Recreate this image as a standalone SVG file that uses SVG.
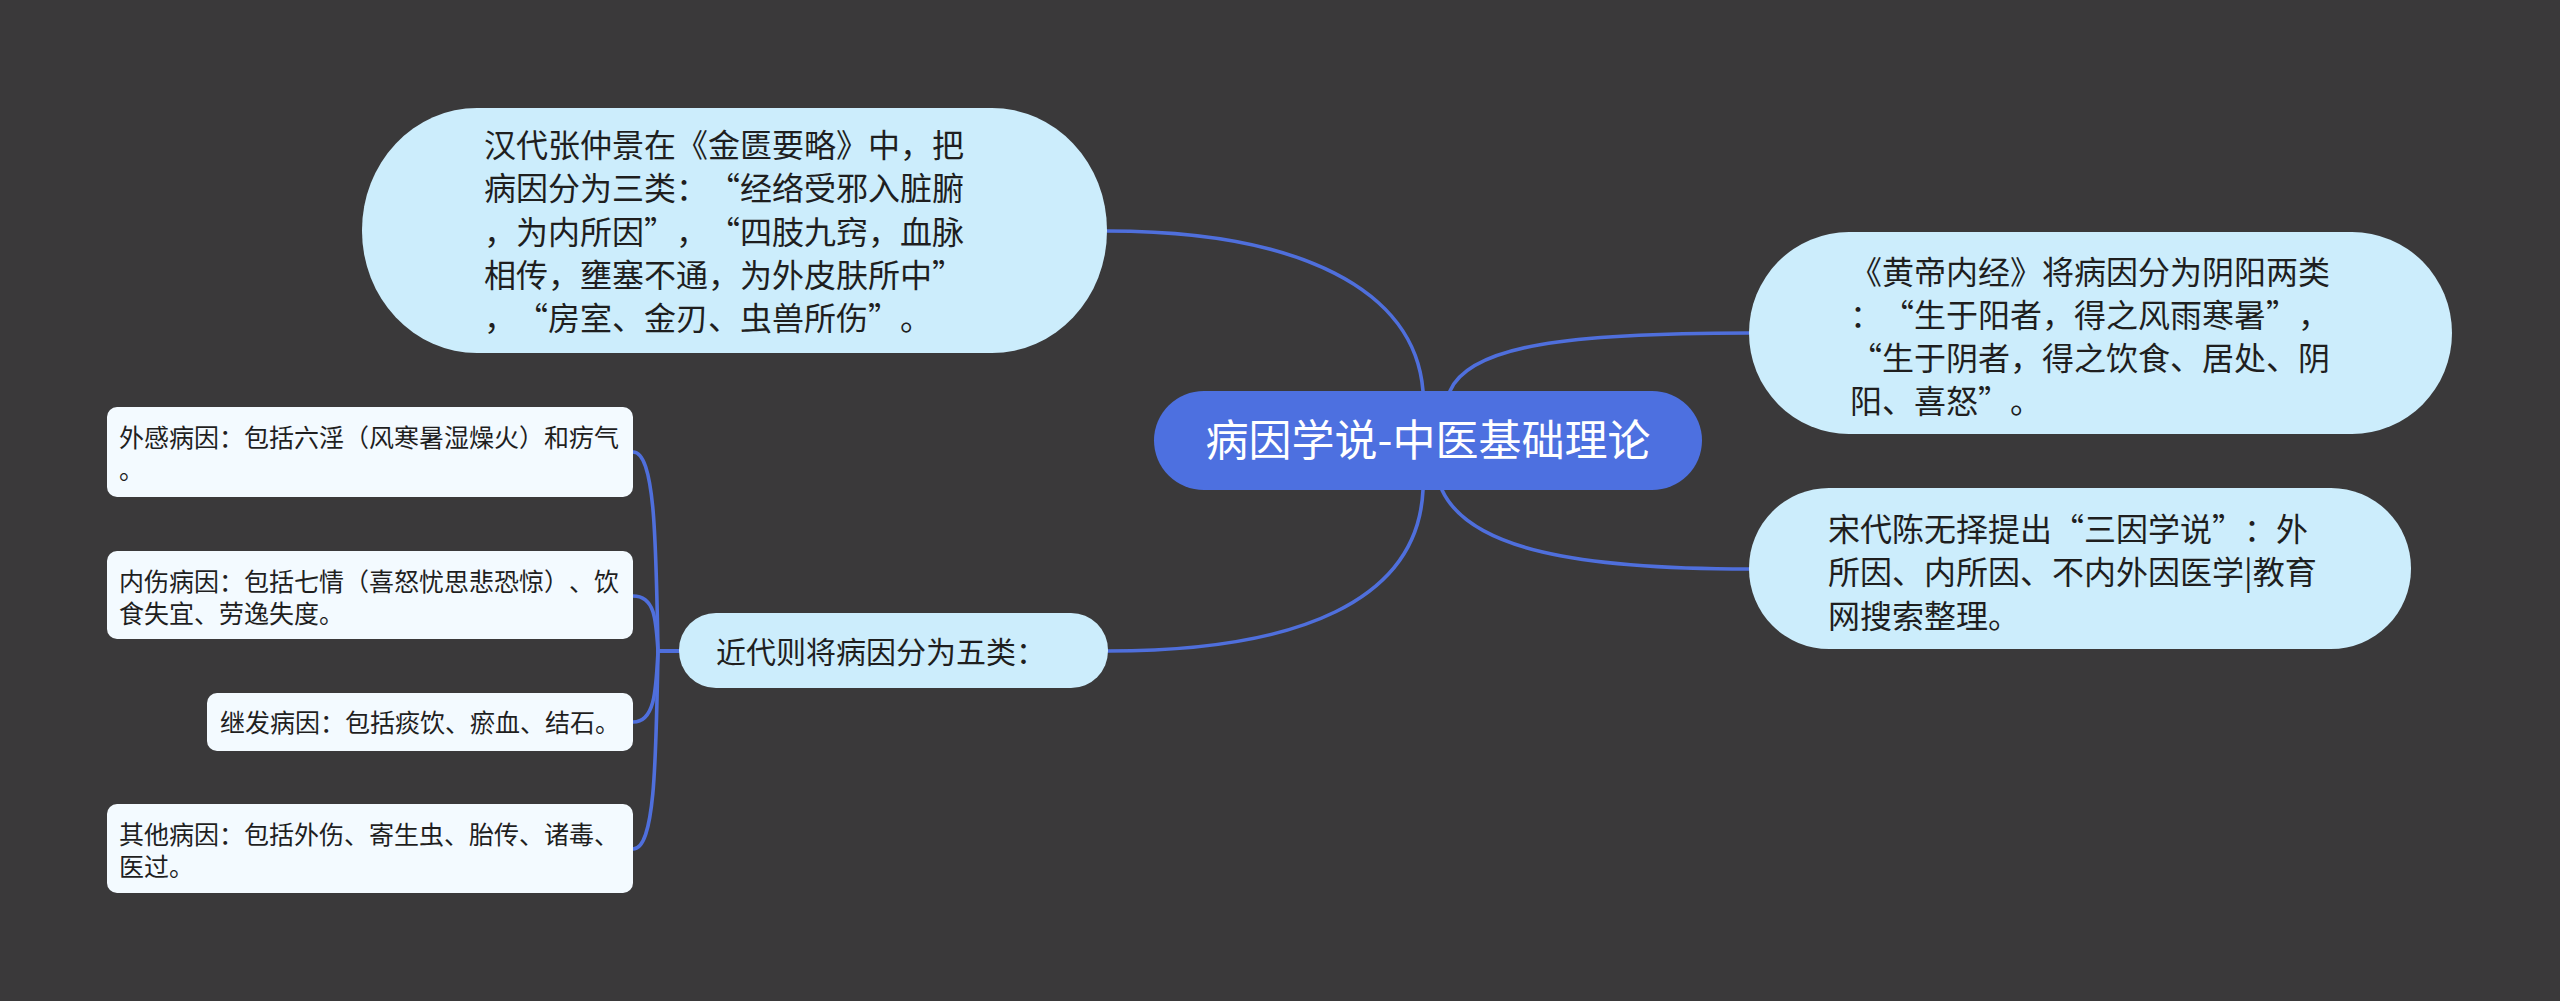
<svg xmlns="http://www.w3.org/2000/svg" width="2560" height="1001" viewBox="0 0 2560 1001">
<style>
.bg{fill:#3a393a}
.sub{fill:#ccedfc}
.leaf{fill:#f3faff}
.root{fill:#4d70e0}
.conn path{fill:none;stroke:#4f6fdc;stroke-width:3.6;stroke-linecap:round}
text{font-family:"Noto Sans CJK SC","Noto Sans",sans-serif;fill:#1f1f1f;text-spacing-trim:space-all;font-kerning:none}
.t32{font-size:32px}
.t30{font-size:30px}
.t25{font-size:25px}
.troot{font-size:43px;fill:#ffffff}
</style>
<rect class="bg" x="0" y="0" width="2560" height="1001"/>
<g id="connectors" class="conn">
<path d="M1423 391 C1415 290 1300 231 1107 231"/>
<path d="M1450 391 C1470 345 1570 333 1749 333"/>
<path d="M1442 490 C1470 550 1580 569 1749 569"/>
<path d="M1423 490 C1418 600 1300 651 1108 651"/>
<path d="M680 651 H658 C656 540 655 452 633 452"/>
<path d="M680 651 H658 C656 620 655 596 633 596"/>
<path d="M680 651 H658 C656 690 655 722 633 722"/>
<path d="M680 651 H658 C656 762 655 849 633 849"/>
</g>
<g id="root">
<rect class="root" x="1154" y="391" width="548" height="99" rx="50" ry="50"/>
<text class="troot" x="1428" y="456" text-anchor="middle">病因学说-中医基础理论</text>
</g>
<g id="node-hanzhang">
<rect class="sub" x="362" y="108" width="745" height="245" rx="115" ry="122"/>
<text class="t32" x="484" y="157">汉代张仲景在《金匮要略》中，把</text>
<text class="t32" x="484" y="200">病因分为三类：“经络受邪入脏腑</text>
<text class="t32" x="484" y="244">，为内所因”，“四肢九窍，血脉</text>
<text class="t32" x="484" y="287">相传，壅塞不通，为外皮肤所中”</text>
<text class="t32" x="484" y="330">，“房室、金刃、虫兽所伤”。</text>
</g>
<g id="node-huangdi">
<rect class="sub" x="1749" y="232" width="703" height="202" rx="100" ry="101"/>
<text class="t32" x="1850" y="284">《黄帝内经》将病因分为阴阳两类</text>
<text class="t32" x="1850" y="327">：“生于阳者，得之风雨寒暑”，</text>
<text class="t32" x="1850" y="370">“生于阴者，得之饮食、居处、阴</text>
<text class="t32" x="1850" y="413">阳、喜怒”。</text>
</g>
<g id="node-songdai">
<rect class="sub" x="1749" y="488" width="662" height="161" rx="80" ry="80"/>
<text class="t32" x="1828" y="541">宋代陈无择提出“三因学说”：外</text>
<text class="t32" x="1828" y="584">所因、内所因、不内外因医学|教育</text>
<text class="t32" x="1828" y="628">网搜索整理。</text>
</g>
<g id="node-jindai">
<rect class="sub" x="679" y="613" width="429" height="75" rx="37" ry="37"/>
<text class="t30" x="716" y="663">近代则将病因分为五类：</text>
</g>
<g id="leaf-waigan">
<rect class="leaf" x="107" y="407" width="526" height="90" rx="10" ry="10"/>
<text class="t25" x="119" y="447">外感病因：包括六淫（风寒暑湿燥火）和疠气</text>
<text class="t25" x="119" y="479">。</text>
</g>
<g id="leaf-neishang">
<rect class="leaf" x="107" y="551" width="526" height="88" rx="10" ry="10"/>
<text class="t25" x="119" y="591">内伤病因：包括七情（喜怒忧思悲恐惊）、饮</text>
<text class="t25" x="119" y="623">食失宜、劳逸失度。</text>
</g>
<g id="leaf-jifa">
<rect class="leaf" x="207" y="693" width="426" height="58" rx="10" ry="10"/>
<text class="t25" x="220" y="732">继发病因：包括痰饮、瘀血、结石。</text>
</g>
<g id="leaf-qita">
<rect class="leaf" x="107" y="804" width="526" height="89" rx="10" ry="10"/>
<text class="t25" x="119" y="844">其他病因：包括外伤、寄生虫、胎传、诸毒、</text>
<text class="t25" x="119" y="876">医过。</text>
</g>
</svg>
